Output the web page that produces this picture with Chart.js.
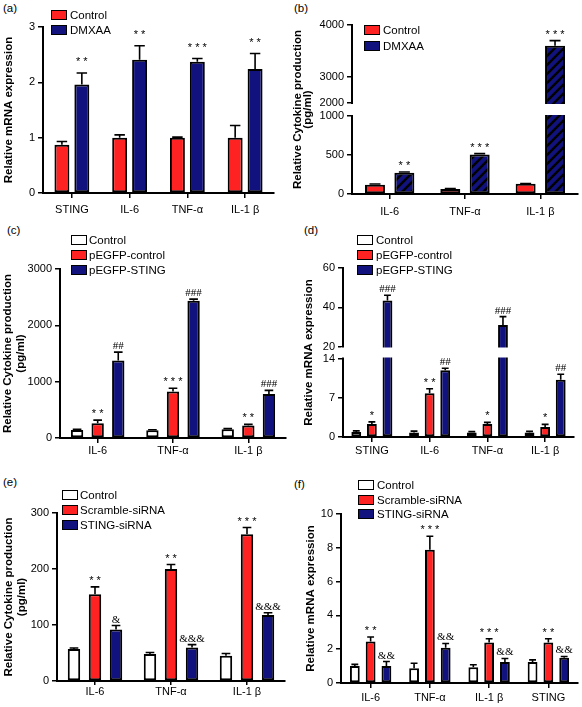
<!DOCTYPE html>
<html>
<head>
<meta charset="utf-8">
<script src="https://cdn.jsdelivr.net/npm/chart.js@4.4.0/dist/chart.umd.min.js"></script>
<style>
  body { margin: 0; background: #fff; }
  #wrap { position: relative; width: 582px; height: 707px; overflow: hidden; color: #000;
          font-family: "Liberation Sans", Arial, sans-serif; }
  #wrap canvas { position: absolute; }
  .lab { position: absolute; font-size: 11.5px; line-height: 14px; }
  .leg { position: absolute; height: 10px; white-space: nowrap; font-size: 11.5px; line-height: 10px; }
  .leg i { position: absolute; left: 0; top: 0; width: 16px; height: 10px; box-sizing: border-box; border: 1.5px solid #000; }
  .leg span { position: absolute; top: 0; }
</style>
</head>
<body>
<div id="wrap">
  <div class="lab" style="left:3px;top:1px">(a)</div>
  <div class="lab" style="left:294px;top:1px">(b)</div>
  <div class="lab" style="left:7px;top:223px">(c)</div>
  <div class="lab" style="left:304px;top:223px">(d)</div>
  <div class="lab" style="left:3px;top:475px">(e)</div>
  <div class="lab" style="left:294px;top:477px">(f)</div>
</div>
<script>
// (a) relative mRNA expression, Control vs DMXAA
const aCats = ['STING', 'IL-6', 'TNF-α', 'IL-1 β'];
const aControl = [0.87, 1.0, 1.0, 1.0];
const aControlErr = [0.06, 0.05, 0.01, 0.22];
const aDmxaa = [1.96, 2.41, 2.37, 2.24];
const aDmxaaErr = [0.21, 0.25, 0.06, 0.28];
const aStars = ['* *', '* *', '* * *', '* *'];

// (b) cytokine production, broken axis
const bCats = ['IL-6', 'TNF-α', 'IL-1 β'];
const bControl = [120, 65, 130];
const bControlErr = [8, 5, 5];
const bDmxaa = [273, 505, 3600];
const bDmxaaErr = [10, 12, 100];
const bStars = ['* *', '* * *', '* * *'];
const bTicks = [0, 500, 1000, 2500, 3000, 4000];
const bTickLabels = ['0', '500', '1000', '2000', '3000', '4000'];

// (c) cytokine production after overexpression
const cCats = ['IL-6', 'TNF-α', 'IL-1 β'];
const cControl = [140, 137, 155];
const cControlErr = [15, 10, 12];
const cPctrl = [262, 827, 220];
const cPctrlErr = [55, 55, 22];
const cSting = [1375, 2435, 780];
const cStingErr = [150, 30, 65];
const cStars = ['* *', '* * *', '* *'];
const cHash = ['##', '###', '###'];

// (d) mRNA after overexpression, broken axis
const dCats = ['STING', 'IL-6', 'TNF-α', 'IL-1 β'];
const dControl = [0.9, 0.8, 0.8, 0.8];
const dControlErr = [0.2, 0.25, 0.15, 0.2];
const dPctrl = [2.3, 7.8, 2.3, 1.8];
const dPctrlErr = [0.4, 0.8, 0.3, 0.45];
const dSting = [43.5, 11.9, 31, 10.2];
const dStingErr = [2.6, 0.35, 4.2, 1.0];
const dStars = ['*', '* *', '*', '*'];
const dHash = ['###', '##', '###', '##'];
const dTicks = [0, 7, 14, 20, 40, 60];
const dTickLabels = ['0', '7', '14', '20', '40', '60'];

// (e) cytokine production after siRNA
const eCats = ['IL-6', 'TNF-α', 'IL-1 β'];
const eControl = [57, 48, 45];
const eControlErr = [2, 3, 4];
const eScr = [155, 200, 262];
const eScrErr = [13, 8, 12];
const eSting = [92, 60, 118];
const eStingErr = [7, 5, 4];
const eStars = ['* *', '* *', '* * *'];
const eAmp = ['&', '&&&', '&&&'];

// (f) mRNA after siRNA
const fCats = ['IL-6', 'TNF-α', 'IL-1 β', 'STING'];
const fControl = [1.0, 0.87, 0.93, 1.25];
const fControlErr = [0.1, 0.3, 0.15, 0.12];
const fScr = [2.46, 7.88, 2.4, 2.4];
const fScrErr = [0.26, 0.8, 0.22, 0.22];
const fSting = [1.0, 2.08, 1.25, 1.49];
const fStingErr = [0.27, 0.26, 0.2, 0.08];
const fStars = ['* *', '* * *', '* * *', '* *'];
const fAmp = ['&&', '&&', '&&', '&&'];

const red = '#ff2222';
const navy = '#12127e';
const white = '#ffffff';

Chart.defaults.font.family = '"Liberation Sans", Arial, sans-serif';
Chart.defaults.color = '#000';

let wrap = document.getElementById('wrap');

// striped fill for the DMXAA bars of (b)
let hatch = (() => {
  let c = document.createElement('canvas');
  c.width = c.height = 9;
  let g = c.getContext('2d');
  g.fillStyle = navy;
  g.fillRect(0, 0, 9, 9);
  g.strokeStyle = '#000';
  g.lineWidth = 2.4;
  g.beginPath();
  g.moveTo(0, 9); g.lineTo(9, 0);
  g.moveTo(-3, 3); g.lineTo(3, -3);
  g.moveTo(6, 12); g.lineTo(12, 6);
  g.stroke();
  return g.createPattern(c, 'repeat');
})();

// linear axis with a gap between a low and a high segment
class BrokenScale extends Chart.LinearScale {
  buildTicks() {
    return this.options.tickValues.map(v => ({value: v}));
  }
  getPixelForValue(v) {
    let b = this.options.brk;
    let h = this.bottom - this.top - b.gap;
    let lowH = h * b.share, highH = h - lowH;
    if (v <= b.low) return this.bottom - (v - this.min) / (b.low - this.min) * lowH;
    if (v >= b.high) return this.bottom - lowH - b.gap - (v - b.high) / (this.max - b.high) * highH;
    return this.bottom - lowH - (v - b.low) / (b.high - b.low) * b.gap;
  }
  getValueForPixel(p) {
    let b = this.options.brk;
    let h = this.bottom - this.top - b.gap;
    let lowH = h * b.share, highH = h - lowH;
    let d = this.bottom - p;
    if (d <= lowH) return this.min + d / lowH * (b.low - this.min);
    if (d >= lowH + b.gap) return b.high + (d - lowH - b.gap) / highH * (this.max - b.high);
    return b.low + (d - lowH) / b.gap * (b.high - b.low);
  }
}
BrokenScale.id = 'broken';
BrokenScale.defaults = {};
Chart.register(BrokenScale);

// error bars, significance marks and the white break of the axis
let errorBars = {
  id: 'errorBars',
  afterDatasetsDraw(chart) {
    let ctx = chart.ctx;
    let y = chart.scales.y;
    let area = chart.chartArea;
    let brk = y.options.brk;
    if (brk) {
      let yHigh = y.getPixelForValue(brk.high);
      let yLow = y.getPixelForValue(brk.low);
      ctx.save();
      ctx.fillStyle = '#fff';
      ctx.fillRect(area.left - 2, yHigh + 1, area.right - area.left + 4, yLow - yHigh - 2);
      ctx.restore();
    }
    chart.data.datasets.forEach((ds, i) => {
      let meta = chart.getDatasetMeta(i);
      meta.data.forEach((bar, j) => {
        let top = y.getPixelForValue(ds.data[j] + ds.errors[j]);
        let cap = Math.min(bar.width * 0.7, 11);
        ctx.save();
        ctx.strokeStyle = '#000';
        ctx.lineWidth = 1.6;
        ctx.beginPath();
        ctx.moveTo(bar.x, bar.y);
        ctx.lineTo(bar.x, top);
        ctx.moveTo(bar.x - cap / 2, top);
        ctx.lineTo(bar.x + cap / 2, top);
        ctx.stroke();
        if (ds.marks && ds.marks[j]) {
          let m = ds.marks[j];
          let star = m.includes('*');
          ctx.font = star ? '11px "Liberation Sans", Arial' : '11px "Liberation Serif", "Times New Roman"';
          ctx.fillStyle = '#000';
          ctx.textAlign = 'center';
          ctx.textBaseline = 'alphabetic';
          ctx.fillText(m, bar.x, top - (star ? chart.options.starGap : 3));
        }
        ctx.restore();
      });
    });
  }
};

let makeChart = (p) => {
  let cv = document.createElement('canvas');
  let left = p.canvasLeft;
  let top = p.topY - 10;
  cv.width = p.rightX - left + 4;
  cv.height = p.bottomY - p.topY + 10 + 24;
  cv.style.left = left + 'px';
  cv.style.top = top + 'px';
  wrap.appendChild(cv);
  let yw = p.axisX - left;

  let y = {
    type: p.brk ? 'broken' : 'linear',
    min: p.min,
    max: p.max,
    afterFit: s => { s.width = yw; },
    grid: { drawOnChartArea: false, color: '#000', lineWidth: 1.5, tickLength: 5 },
    border: { color: '#000', width: 2 },
    ticks: { font: { size: 11 }, padding: 3, color: '#000', autoSkip: false },
    title: {
      display: true, text: p.title, color: '#000',
      font: { size: 11.5, weight: 'bold', lineHeight: p.titleLH },
      padding: { top: p.titlePad, bottom: 0 }
    }
  };
  if (p.brk) {
    y.brk = p.brk;
    y.tickValues = p.tickValues;
    y.ticks.callback = (v, i) => p.tickLabels[i];
  } else {
    y.ticks.stepSize = p.step;
    y.ticks.callback = v => String(v);
  }

  new Chart(cv, {
    type: 'bar',
    data: {
      labels: p.cats,
      datasets: p.sets.map(s => ({
        label: s.name,
        data: s.data,
        errors: s.err,
        marks: s.marks,
        backgroundColor: s.fill,
        borderColor: '#000',
        borderWidth: 2,
        borderSkipped: false,
        barPercentage: p.barP,
        categoryPercentage: p.catP
      }))
    },
    options: {
      responsive: false,
      animation: false,
      devicePixelRatio: 1,
      starGap: p.starGap || 3,
      layout: { padding: { top: 10, right: 4, left: 0, bottom: 0 } },
      plugins: { legend: { display: false }, tooltip: { enabled: false } },
      scales: {
        x: {
          afterFit: s => { s.height = 24; },
          grid: { drawOnChartArea: false, offset: false, color: '#000', lineWidth: 1.5, tickLength: p.xTick || 5 },
          border: { color: '#000', width: 2 },
          ticks: { font: { size: 11 }, color: '#000', padding: p.xPad, maxRotation: 0 }
        },
        y: y
      }
    },
    plugins: [errorBars]
  });

  // legend as plain text next to coloured boxes
  p.sets.forEach((s, i) => {
    let row = document.createElement('div');
    row.className = 'leg';
    row.style.left = p.leg[0] + 'px';
    row.style.top = (p.leg[1] + i * p.leg[2]) + 'px';
    let box = document.createElement('i');
    box.style.background = s.legFill || s.fill;
    let txt = document.createElement('span');
    txt.style.left = (p.leg[3] - p.leg[0]) + 'px';
    txt.textContent = s.name;
    row.appendChild(box);
    row.appendChild(txt);
    wrap.appendChild(row);
  });
};

makeChart({
  canvasLeft: 0, axisX: 43, topY: 27, bottomY: 193, rightX: 274,
  cats: aCats, min: 0, max: 3, step: 1,
  title: 'Relative mRNA expression', titleLH: 1.05, titlePad: 3,
  barP: 0.75, catP: 0.69, xPad: 5, starGap: 8,
  leg: [51, 10, 15, 70],
  sets: [
    { name: 'Control', data: aControl, err: aControlErr, fill: red },
    { name: 'DMXAA', data: aDmxaa, err: aDmxaaErr, marks: aStars, fill: navy }
  ]
});

makeChart({
  canvasLeft: 291, axisX: 352, topY: 25, bottomY: 194, rightX: 578,
  cats: bCats, min: 0, max: 4000,
  brk: { low: 1000, high: 2500, gap: 13, share: 0.5 },
  tickValues: bTicks, tickLabels: bTickLabels,
  title: ['Relative Cytokine production', '(pg/ml)'], titleLH: 0.87, titlePad: 1.7,
  barP: 0.68, catP: 0.78, xPad: 6,
  leg: [364, 25, 15.7, 383],
  sets: [
    { name: 'Control', data: bControl, err: bControlErr, fill: red },
    { name: 'DMXAA', data: bDmxaa, err: bDmxaaErr, marks: bStars, fill: hatch, legFill: navy }
  ]
});

makeChart({
  canvasLeft: 0, axisX: 60, topY: 269, bottomY: 438, rightX: 286,
  cats: cCats, min: 0, max: 3000, step: 1000,
  title: ['Relative Cytokine production', '(pg/ml)'], titleLH: 1.13, titlePad: 1.8,
  barP: 0.6, catP: 0.82, xPad: 1,
  leg: [71, 235, 15, 89],
  sets: [
    { name: 'Control', data: cControl, err: cControlErr, fill: white },
    { name: 'pEGFP-control', data: cPctrl, err: cPctrlErr, marks: cStars, fill: red },
    { name: 'pEGFP-STING', data: cSting, err: cStingErr, marks: cHash, fill: navy }
  ]
});

makeChart({
  canvasLeft: 291, axisX: 343, topY: 268, bottomY: 437, rightX: 574,
  cats: dCats, min: 0, max: 60,
  brk: { low: 14, high: 20, gap: 12, share: 0.5 },
  tickValues: dTicks, tickLabels: dTickLabels,
  title: 'Relative mRNA expression', titleLH: 1.05, titlePad: 11.7,
  barP: 0.63, catP: 0.81, xPad: 2,
  leg: [357, 235, 15, 376],
  sets: [
    { name: 'Control', data: dControl, err: dControlErr, fill: white },
    { name: 'pEGFP-control', data: dPctrl, err: dPctrlErr, marks: dStars, fill: red },
    { name: 'pEGFP-STING', data: dSting, err: dStingErr, marks: dHash, fill: navy }
  ]
});

makeChart({
  canvasLeft: 0, axisX: 57, topY: 513, bottomY: 681, rightX: 285,
  cats: eCats, min: 0, max: 300, step: 100,
  title: ['Relative Cytokine production', '(pg/ml)'], titleLH: 1.1, titlePad: 2.4,
  barP: 0.59, catP: 0.83, xPad: 0, xTick: 4,
  leg: [62, 490, 15, 80],
  sets: [
    { name: 'Control', data: eControl, err: eControlErr, fill: white },
    { name: 'Scramble-siRNA', data: eScr, err: eScrErr, marks: eStars, fill: red },
    { name: 'STING-siRNA', data: eSting, err: eStingErr, marks: eAmp, fill: navy }
  ]
});

makeChart({
  canvasLeft: 291, axisX: 341, topY: 514, bottomY: 683, rightX: 578,
  cats: fCats, min: 0, max: 10, step: 2,
  title: 'Relative mRNA expression', titleLH: 1.05, titlePad: 14,
  barP: 0.62, catP: 0.8, xPad: 3,
  leg: [358, 480, 14.7, 377],
  sets: [
    { name: 'Control', data: fControl, err: fControlErr, fill: white },
    { name: 'Scramble-siRNA', data: fScr, err: fScrErr, marks: fStars, fill: red },
    { name: 'STING-siRNA', data: fSting, err: fStingErr, marks: fAmp, fill: navy }
  ]
});
</script>
</body>
</html>
